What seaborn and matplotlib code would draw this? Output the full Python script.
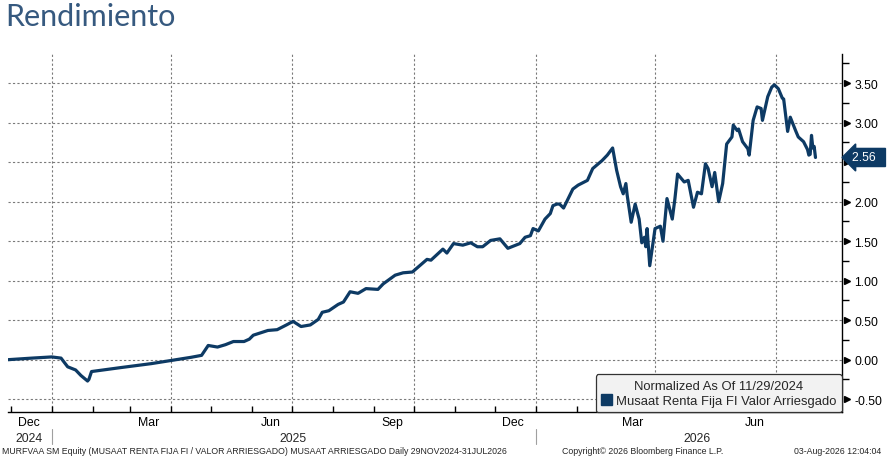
## Rendimiento chart (Bloomberg style) with seaborn
import pandas as pd
import numpy as np
import seaborn as sns
import matplotlib.pyplot as plt
import matplotlib.dates as mdates
from matplotlib.patches import Patch

# data (normalized return, %)
dates = ['2024-11-29', '2024-12-17', '2025-01-01', '2025-01-08', '2025-01-13', '2025-01-19',
         '2025-01-23', '2025-01-28', '2025-01-29', '2025-01-31', '2025-02-22', '2025-03-17',
         '2025-04-01', '2025-04-16', '2025-04-24', '2025-04-29', '2025-05-06', '2025-05-12',
         '2025-05-18', '2025-05-26', '2025-05-30', '2025-06-02', '2025-06-13', '2025-06-20',
         '2025-06-27', '2025-07-02', '2025-07-08', '2025-07-15', '2025-07-21', '2025-07-24',
         '2025-07-29', '2025-08-05', '2025-08-09', '2025-08-14', '2025-08-20', '2025-08-26',
         '2025-09-04', '2025-09-08', '2025-09-17', '2025-09-23', '2025-09-30', '2025-10-11',
         '2025-10-14', '2025-10-23', '2025-10-26', '2025-10-31', '2025-11-07', '2025-11-13',
         '2025-11-18', '2025-11-22', '2025-11-28', '2025-12-05', '2025-12-11', '2025-12-20',
         '2025-12-24', '2025-12-28', '2025-12-30', '2026-01-03', '2026-01-08', '2026-01-12',
         '2026-01-14', '2026-01-17', '2026-01-19', '2026-01-22', '2026-01-29', '2026-02-02',
         '2026-02-09', '2026-02-13', '2026-02-20', '2026-02-24', '2026-02-28', '2026-03-03',
         '2026-03-06', '2026-03-08', '2026-03-10', '2026-03-11', '2026-03-14', '2026-03-17',
         '2026-03-20', '2026-03-22', '2026-03-24', '2026-03-25', '2026-03-26', '2026-03-28',
         '2026-04-01', '2026-04-05', '2026-04-07', '2026-04-10', '2026-04-14', '2026-04-16',
         '2026-04-18', '2026-04-23', '2026-04-26', '2026-04-30', '2026-05-03', '2026-05-06',
         '2026-05-09', '2026-05-11', '2026-05-14', '2026-05-16', '2026-05-19', '2026-05-22',
         '2026-05-25', '2026-05-29', '2026-05-30', '2026-06-02', '2026-06-03', '2026-06-06',
         '2026-06-10', '2026-06-11', '2026-06-14', '2026-06-17', '2026-06-20', '2026-06-21',
         '2026-06-25', '2026-06-28', '2026-06-30', '2026-07-03', '2026-07-06', '2026-07-07',
         '2026-07-10', '2026-07-12', '2026-07-16', '2026-07-18', '2026-07-22', '2026-07-25',
         '2026-07-26', '2026-07-27', '2026-07-28', '2026-07-29', '2026-07-30', '2026-07-31']
values = [0.00, 0.02, 0.035, 0.02, -0.09, -0.13,
          -0.20, -0.27, -0.25, -0.15, -0.10, -0.05,
          -0.01, 0.03, 0.055, 0.18, 0.16, 0.19,
          0.23, 0.23, 0.26, 0.31, 0.37, 0.38,
          0.44, 0.485, 0.42, 0.44, 0.51, 0.60,
          0.62, 0.70, 0.73, 0.86, 0.84, 0.90,
          0.89, 0.96, 1.07, 1.10, 1.11, 1.27,
          1.26, 1.40, 1.35, 1.47, 1.45, 1.48,
          1.43, 1.43, 1.51, 1.53, 1.41, 1.47,
          1.55, 1.57, 1.66, 1.63, 1.78, 1.85,
          1.95, 1.97, 1.97, 1.92, 2.16, 2.21,
          2.27, 2.42, 2.52, 2.59, 2.68, 2.40,
          2.19, 2.10, 2.23, 2.08, 1.74, 1.97,
          1.78, 1.48, 1.55, 1.43, 1.66, 1.19,
          1.66, 1.69, 1.50, 2.04, 1.78, 2.04,
          2.35, 2.25, 2.27, 1.93, 2.12, 2.10,
          2.48, 2.42, 2.19, 2.37, 2.00, 2.23,
          2.73, 2.82, 2.97, 2.90, 2.92, 2.76,
          2.67, 2.59, 3.03, 3.20, 3.18, 3.03,
          3.33, 3.45, 3.48, 3.43, 3.31, 3.30,
          2.89, 3.07, 2.90, 2.82, 2.76, 2.66,
          2.59, 2.60, 2.84, 2.68, 2.70, 2.56]

yticks = [-0.5, 0.0, 0.5, 1.0, 1.5, 2.0, 2.5, 3.0, 3.5]
grid_dates = ['2025-01-01', '2025-04-01', '2025-07-01', '2025-10-01',
              '2026-01-01', '2026-04-01', '2026-07-01']
years = ['2024', '2025', '2026']
year_pos = ['2024-12-15', '2025-07-02', '2026-05-03']
year_breaks = ['2025-01-01', '2026-01-01']

series_name = 'Musaat Renta Fija FI Valor Arriesgado'
legend_title = 'Normalized As Of 11/29/2024'

df = pd.DataFrame({'date': pd.to_datetime(dates), 'value': values})

navy = '#0d3a64'
sns.set_style("white")
plt.rcParams['font.family'] = ['Liberation Sans', 'DejaVu Sans']

fig = plt.figure(figsize=(8.93, 4.60), dpi=100)
ax = fig.add_axes([8 / 893, 1 - 413.3 / 460, 834 / 893, 358.3 / 460])

sns.lineplot(data=df, x='date', y='value', ax=ax, color=navy, linewidth=2.3, legend=False)

ax.set_xlim(pd.Timestamp('2024-11-29'), pd.Timestamp('2026-08-20'))
ax.set_ylim(-0.666, 3.87)
ax.set_xlabel("")
ax.set_ylabel("")

# spines
for s in ['top', 'left']:
    ax.spines[s].set_visible(False)
for s in ['right', 'bottom']:
    ax.spines[s].set_color('black')
    ax.spines[s].set_linewidth(1.0)

# y axis on the right; the label hidden under the last value tag is left empty
last = values[-1]
ax.yaxis.tick_right()
ax.set_yticks(yticks)
ax.set_yticks(np.arange(-0.25, 3.8, 0.5), minor=True)
ax.yaxis.set_major_formatter(plt.FuncFormatter(
    lambda v, p: '' if abs(v - last) < 0.15 else f'{v:.2f}'))
ax.tick_params(axis='y', which='major', length=0, pad=9, labelsize=8.8, colors='black')
ax.tick_params(axis='y', which='minor', length=5, width=1, direction='out', color='black', right=True)
ax.plot([1.006] * len(yticks), yticks, ls='none', marker='>', ms=5, color='black',
        transform=ax.get_yaxis_transform(), clip_on=False)
ax.grid(axis='y', which='major', linestyle=(0, (2, 2)), color='#7a7a7a', linewidth=0.8)

# x axis: month labels mid-month, month ticks inside
ax.xaxis.set_major_locator(mdates.MonthLocator(bymonth=(3, 6, 9, 12), bymonthday=15))
ax.xaxis.set_major_formatter(mdates.DateFormatter('%b'))
ax.xaxis.set_minor_locator(mdates.MonthLocator())
ax.tick_params(axis='x', which='major', length=0, pad=3, labelsize=8.8, colors='black')
ax.tick_params(axis='x', which='minor', length=4, width=1, direction='in', color='black', bottom=True)

for d in grid_dates:
    ax.axvline(pd.Timestamp(d), linestyle=(0, (2, 2)), color='#7a7a7a', linewidth=0.8, zorder=0)

xt = ax.get_xaxis_transform()
for y, p in zip(years, year_pos):
    ax.text(pd.Timestamp(p), -0.072, y, transform=xt, ha='center', va='center', fontsize=8.8)
for d in year_breaks:
    ax.plot([pd.Timestamp(d)] * 2, [-0.047, -0.088], transform=xt, clip_on=False,
            color='#a0a0a0', linewidth=0.8)

# last value tag
ax.text(1.012, last, f'{last:.2f}  ', transform=ax.get_yaxis_transform(),
        ha='left', va='center', color='white', fontsize=8.8,
        bbox=dict(boxstyle='larrow,pad=0.25', fc=navy, ec=navy))

# legend
leg = ax.legend([Patch(facecolor=navy, edgecolor=navy)], [series_name], title=legend_title,
                loc='lower right', borderaxespad=0.0, frameon=True, fancybox=True,
                facecolor='#f2f2f2', edgecolor='#333333', framealpha=1,
                fontsize=9.4, title_fontsize=9.4, handlelength=0.9, handleheight=0.9,
                handletextpad=0.3, borderpad=0.4, labelspacing=0.2)
leg.get_frame().set_linewidth(0.9)

# title and footer
fig.text(5 / 893, 1 - 3 / 460, 'Rendimiento', ha='left', va='top', fontsize=22,
         color='#36597f', family=['Lato', 'DejaVu Sans'])
fig.text(2 / 893, 1 - 452 / 460,
         'MURFVAA SM Equity (MUSAAT RENTA FIJA FI / VALOR ARRIESGADO) MUSAAT ARRIESGADO Daily 29NOV2024-31JUL2026',
         ha='left', va='center', fontsize=6.3)
fig.text(643 / 893, 1 - 452 / 460, 'Copyright\u00a9 2026 Bloomberg Finance L.P.',
         ha='center', va='center', fontsize=6.3)
fig.text(881 / 893, 1 - 452 / 460, '03-Aug-2026 12:04:04', ha='right', va='center', fontsize=6.3)

plt.savefig('out.png', dpi=100)
